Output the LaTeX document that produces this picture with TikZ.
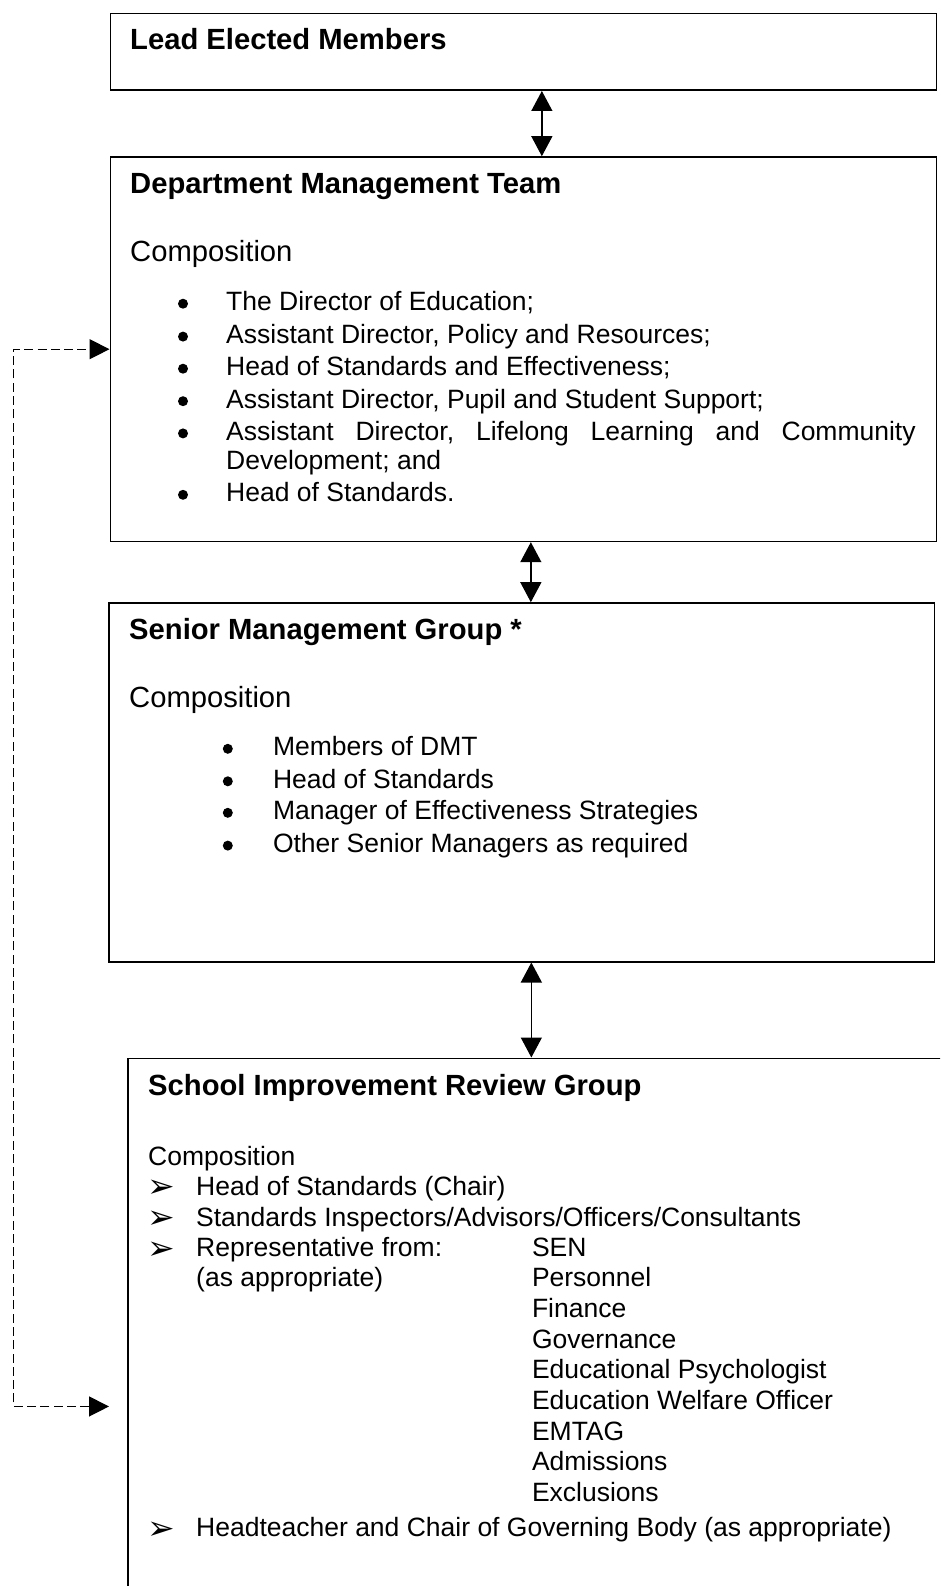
\documentclass[tikz,border=0pt]{standalone}
\usepackage{fontspec}
\setmainfont{Liberation Sans}
\newfontfamily\dingfont{DejaVu Sans}
\usetikzlibrary{arrows.meta}

\begin{document}
\begin{tikzpicture}[x=1pt,y=-1pt,
  box/.style={draw, line width=1.7pt, rectangle, inner sep=0pt, anchor=north west},
  conn/.style={line width=1.3pt, {Triangle[length=20pt,width=21pt]}-{Triangle[length=20pt,width=21pt]}},
  dashconn/.style={line width=1.3pt, dash pattern=on 9pt off 4.3pt, {Triangle[length=20pt,width=20pt]}-{Triangle[length=20pt,width=20pt]}},
  txt/.style={anchor=base west, inner sep=0pt, font=\fontsize{26.5}{30}\selectfont},
  ttl/.style={anchor=base west, inner sep=0pt, font=\fontsize{29.2}{34}\selectfont\bfseries},
  cmp/.style={anchor=base west, inner sep=0pt, font=\fontsize{29.2}{34}\selectfont},
  dot/.style={circle, fill, inner sep=0pt, minimum size=10pt, yshift=7pt},
  arr/.style={anchor=base west, inner sep=0pt, yshift=-2.5pt, font=\dingfont\fontsize{33}{33}\selectfont},
]
\useasboundingbox (0,0) rectangle (940,1586);
\clip (0,0) rectangle (940,1586);

% boxes
\node[box, minimum width=826pt, minimum height=76.5pt] (lem) at (109.5,12.8) {};
\node[box, minimum width=826pt, minimum height=384.3pt] (dmt) at (109.5,156.2) {};
\node[box, minimum width=825.5pt, minimum height=358.6pt] (smg) at (108,602.2) {};
\node[box, minimum width=830pt, minimum height=696.2pt] (sirg) at (127,1057.5) {};

% links between the levels
\draw[conn] ([xshift=18.5pt]lem.south) -- ([xshift=18.5pt]lem.south |- dmt.north);
\draw[conn] ([xshift=7.5pt]dmt.south) -- ([xshift=7.5pt]dmt.south |- smg.north);
\draw[conn] ([xshift=9.75pt]smg.south) -- ([xshift=9.75pt]smg.south |- sirg.north);
\draw[dashconn] ([xshift=-18pt]sirg.west) -- ++(-95.5,0) |- (dmt.west);

% Lead Elected Members
\node[ttl] (lemt) at (130,50) {Lead Elected Members};

% Department Management Team
\node[ttl] (dmtt) at (130,194) {Department Management Team};
\node[cmp] (dmtc) at (130,262) {Composition};
\node[dot] (db1) at (183,310.7) {};
\node[txt] (d1) at (226,310.7) {The Director of Education;};
\node[dot] (db2) at (183,343.6) {};
\node[txt] (d2) at (226,343.6) {Assistant Director, Policy and Resources;};
\node[dot] (db3) at (183,375.7) {};
\node[txt] (d3) at (226,375.7) {Head of Standards and Effectiveness;};
\node[dot] (db4) at (183,408.2) {};
\node[txt] (d4) at (226,408.2) {Assistant Director, Pupil and Student Support;};
\node[dot] (db5) at (183,440.4) {};
\node[txt] (d5) at (226,440.4) {\hbox to 689.5pt{Assistant\hfill Director,\hfill Lifelong\hfill Learning\hfill and\hfill Community}};
\node[txt] (d5b) at (226,469) {Development; and};
\node[dot] (db6) at (183,501.8) {};
\node[txt] (d6) at (226,501.8) {Head of Standards.};

% Senior Management Group
\node[ttl] (smgt) at (129,639.7) {Senior Management Group *};
\node[cmp] (smgc) at (129,707) {Composition};
\node[dot] (sb1) at (227.8,755.8) {};
\node[txt] (s1) at (272.8,755.8) {Members of DMT};
\node[dot] (sb2) at (227.8,788.3) {};
\node[txt] (s2) at (272.8,788.3) {Head of Standards};
\node[dot] (sb3) at (227.8,819.8) {};
\node[txt] (s3) at (272.8,819.8) {Manager of Effectiveness Strategies};
\node[dot] (sb4) at (227.8,852.6) {};
\node[txt] (s4) at (272.8,852.6) {Other Senior Managers as required};

% School Improvement Review Group
\node[ttl] (sirgt) at (148,1095.5) {School Improvement Review Group};
\node[txt] (sirgc) at (148,1165.2) {Composition};
\node[arr] (ra1) at (147,1195.3) {➢};
\node[txt] (r1) at (196,1195.3) {Head of Standards (Chair)};
\node[arr] (ra2) at (147,1226) {➢};
\node[txt] (r2) at (196,1226) {Standards Inspectors/Advisors/Officers/Consultants};
\node[arr] (ra3) at (147,1256.8) {➢};
\node[txt] (r3) at (196,1256.8) {Representative from:};
\node[txt] (r3b) at (196,1286.6) {(as appropriate)};
\node[txt] (u1) at (531.8,1256.8) {SEN};
\node[txt] (u2) at (531.8,1286.6) {Personnel};
\node[txt] (u3) at (531.8,1317.7) {Finance};
\node[txt] (u4) at (531.8,1348) {Governance};
\node[txt] (u5) at (531.8,1378.9) {Educational Psychologist};
\node[txt] (u6) at (531.8,1409.7) {Education Welfare Officer};
\node[txt] (u7) at (531.8,1440.4) {EMTAG};
\node[txt] (u8) at (531.8,1470.5) {Admissions};
\node[txt] (u9) at (531.8,1501.3) {Exclusions};
\node[arr] (ra4) at (147,1536.5) {➢};
\node[txt] (r4) at (196,1536.5) {Headteacher and Chair of Governing Body (as appropriate)};
\end{tikzpicture}
\end{document}
